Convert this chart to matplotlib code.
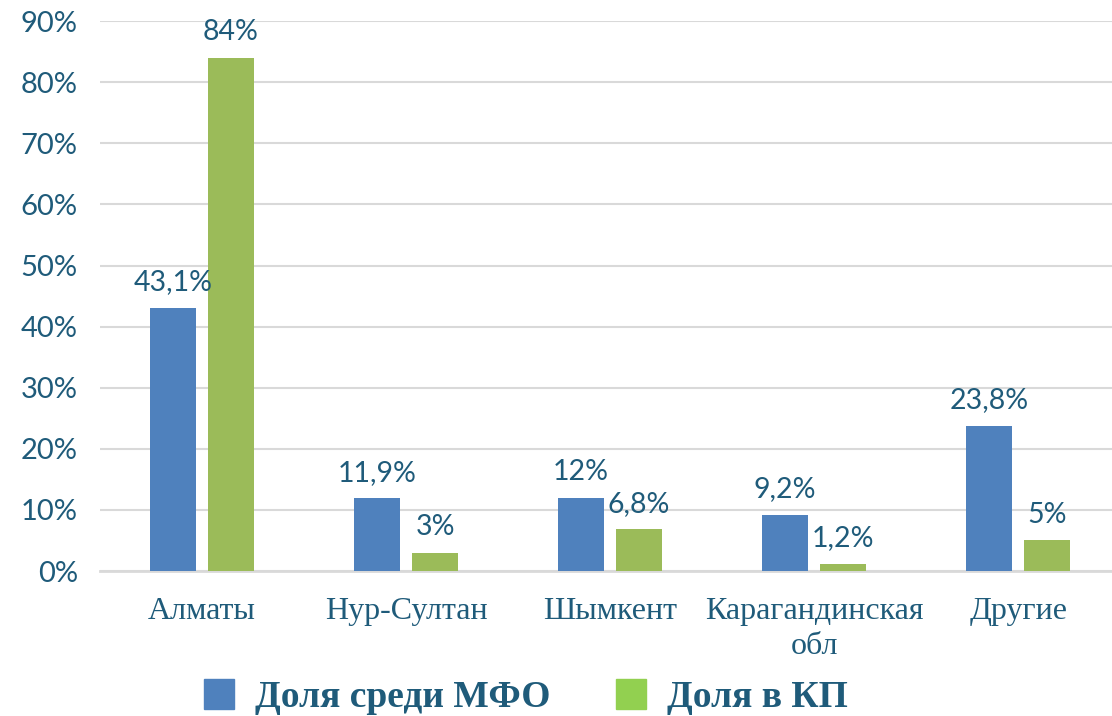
import matplotlib.pyplot as plt
import numpy as np
from matplotlib.patches import Patch

categories = ['Алматы', 'Нур-Султан', 'Шымкент', 'Карагандинская\nобл', 'Другие']
share_mfo = [43.1, 11.9, 12.0, 9.2, 23.8]
share_kp = [84.0, 3.0, 6.8, 1.2, 5.0]
labels_mfo = ['43,1%', '11,9%', '12%', '9,2%', '23,8%']
labels_kp = ['84%', '3%', '6,8%', '1,2%', '5%']
yticks = [0, 10, 20, 30, 40, 50, 60, 70, 80, 90]

text_color = '#1F5B7A'
blue = '#4F81BD'
green = '#9BBB59'

fig = plt.figure(figsize=(11.12, 7.16), dpi=100)
ax = fig.add_axes([0.09, 0.2025, 0.91, 0.768])

x = np.arange(len(categories))
w = 0.225
off = 0.142

b1 = ax.bar(x - off, share_mfo, w, color=blue)
b2 = ax.bar(x + off, share_kp, w, color=green)

for bars, labs in [(b1, labels_mfo), (b2, labels_kp)]:
    for bar, lab in zip(bars, labs):
        ax.annotate(lab, (bar.get_x() + bar.get_width() / 2, bar.get_height()),
                    xytext=(0, 9), textcoords='offset points',
                    ha='center', va='bottom', fontsize=20.5, family='Lato',
                    color=text_color)

ax.set_xlim(-0.5, 4.46)
ax.set_ylim(0, 90)
ax.set_yticks(yticks)
ax.set_yticklabels([f'{t}%' for t in yticks], fontsize=21, family='Lato', color=text_color)
ax.set_xticks(x)
ax.set_xticklabels(categories, fontsize=23, family='Liberation Serif', color=text_color,
                   linespacing=1.25)
ax.tick_params(axis='both', length=0)
ax.tick_params(axis='x', pad=19)
ax.tick_params(axis='y', pad=16)

ax.grid(axis='y', color='#D9D9D9', linewidth=1.5)
ax.set_axisbelow(True)
for s in ['top', 'right', 'left']:
    ax.spines[s].set_visible(False)
ax.spines['bottom'].set_color('#D9D9D9')
ax.spines['bottom'].set_linewidth(2)
ax.spines['bottom'].set_zorder(0.5)

handles = [Patch(color=blue, label='Доля среди МФО'),
           Patch(color='#92D050', label='Доля в КП')]
fig.legend(handles=handles, loc='center', bbox_to_anchor=(0.473, 0.026), ncol=2,
           frameon=False, handlelength=0.8, handleheight=0.85, handletextpad=0.55,
           columnspacing=1.75,
           prop={'family': 'Liberation Serif', 'weight': 'bold', 'size': 27})
for t in fig.legends[0].get_texts():
    t.set_color(text_color)

fig.savefig('out.png', dpi=100)
